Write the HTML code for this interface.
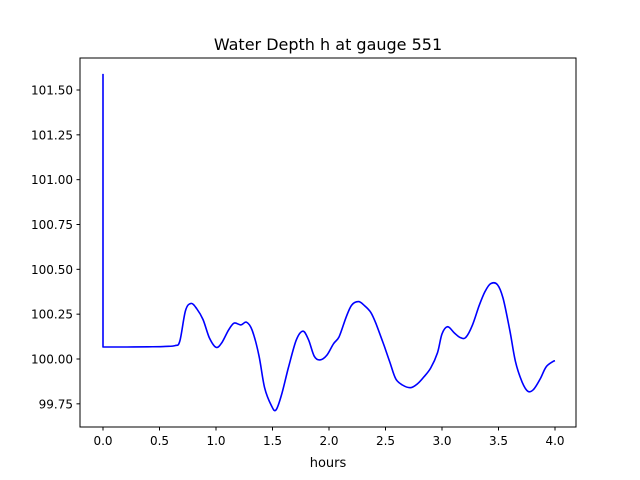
<!DOCTYPE html>
<html><head><meta charset="utf-8"><style>
html,body{margin:0;padding:0;background:#fff;}
svg{display:block;font-family:"DejaVu Sans","Liberation Sans",sans-serif;}
</style></head><body>
<svg id="chart" width="640" height="480" xmlns="http://www.w3.org/2000/svg">
<rect width="640" height="480" fill="#fff"/>
<text x="328" y="50" text-anchor="middle" font-size="16">Water Depth h at gauge 551</text>
<g id="plot"></g>
<rect x="80" y="58" width="496" height="369" fill="none" stroke="#000" stroke-width="1"/>
<text x="328" y="467" text-anchor="middle" font-size="13">hours</text>
</svg>
<script>
const times=[0,0,0.2,0.4,0.55,0.637,0.68,0.73,0.78,0.83,0.885,0.94,1.0,1.05,1.11,1.16,1.22,1.27,1.32,1.38,1.43,1.49,1.53,1.58,1.64,1.71,1.77,1.82,1.87,1.92,1.98,2.04,2.09,2.15,2.2,2.26,2.31,2.37,2.42,2.49,2.54,2.59,2.65,2.72,2.78,2.84,2.9,2.96,3.0,3.05,3.11,3.16,3.21,3.27,3.33,3.38,3.43,3.49,3.54,3.6,3.65,3.71,3.76,3.81,3.87,3.92,3.98,4.0];
const depth=[101.59,100.067,100.067,100.068,100.07,100.075,100.1,100.27,100.31,100.28,100.22,100.12,100.065,100.09,100.16,100.2,100.19,100.205,100.16,100.02,99.84,99.74,99.715,99.8,99.95,100.105,100.155,100.105,100.015,99.995,100.02,100.085,100.125,100.23,100.3,100.32,100.3,100.26,100.19,100.07,99.98,99.89,99.855,99.84,99.86,99.9,99.95,100.035,100.14,100.18,100.145,100.12,100.12,100.19,100.3,100.375,100.42,100.415,100.34,100.16,99.985,99.87,99.82,99.83,99.89,99.955,99.985,99.99];
const xTicks=[0,0.5,1,1.5,2,2.5,3,3.5,4];
const xTickLabels=["0.0","0.5","1.0","1.5","2.0","2.5","3.0","3.5","4.0"];
const yTicks=[99.75,100,100.25,100.5,100.75,101,101.25,101.5];
const yTickLabels=["99.75","100.00","100.25","100.50","100.75","101.00","101.25","101.50"];
const NS="http://www.w3.org/2000/svg";
const xs=t=>103+t*113;
const ys=v=>359-(v-100)*179.33;
const g=document.getElementById('plot');
function mk(tag,attrs){const e=document.createElementNS(NS,tag);for(const k in attrs)e.setAttribute(k,attrs[k]);return e;}
xTicks.forEach((t,i)=>{
  const l=mk('line',{x1:xs(t),x2:xs(t),y1:427,y2:430.5,stroke:'#000'});
  
  
  g.appendChild(l);
  const tx=mk('text',{x:xs(t),y:445,'text-anchor':'middle','font-size':'12'});
  
  
  tx.textContent=xTickLabels[i];g.appendChild(tx);
});
yTicks.forEach((v,i)=>{
  const l=mk('line',{x1:76.5,x2:80,y1:ys(v),y2:ys(v),stroke:'#000'});
  
  
  g.appendChild(l);
  const tx=mk('text',{x:73,y:ys(v)+4.5,'text-anchor':'end','font-size':'12'});
  
  
  tx.textContent=yTickLabels[i];g.appendChild(tx);
});
const P=times.map((t,i)=>[xs(t),ys(depth[i])]);
let d='M'+P[0][0].toFixed(1)+','+P[0][1].toFixed(1)+' L'+P[1][0].toFixed(1)+','+P[1][1].toFixed(1);
for(let i=1;i<P.length-1;i++){
  const p0=P[Math.max(1,i-1)],p1=P[i],p2=P[i+1],p3=P[Math.min(P.length-1,i+2)];
  const c1=[p1[0]+(p2[0]-p0[0])/6,p1[1]+(p2[1]-p0[1])/6];
  const c2=[p2[0]-(p3[0]-p1[0])/6,p2[1]-(p3[1]-p1[1])/6];
  d+=' C'+c1[0].toFixed(1)+','+c1[1].toFixed(1)+' '+c2[0].toFixed(1)+','+c2[1].toFixed(1)+' '+p2[0].toFixed(1)+','+p2[1].toFixed(1);
}
const pl=mk('path',{d:d,fill:'none',stroke:'#0000ff','stroke-width':'1.6','stroke-linejoin':'round'});


g.appendChild(pl);
</script>
</body></html>
